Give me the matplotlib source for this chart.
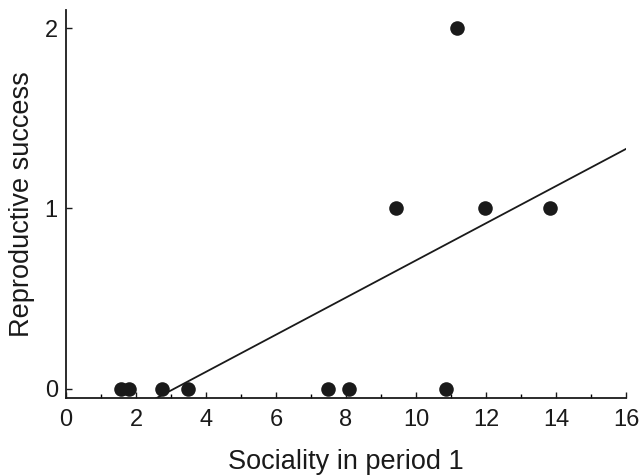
import numpy as np
import matplotlib
matplotlib.use("Agg")
import matplotlib.pyplot as plt
from matplotlib.ticker import MultipleLocator

plt.rcParams['font.family'] = ['Liberation Sans', 'DejaVu Sans']

sociality = [1.57, 1.8, 2.74, 3.49, 7.49, 8.09, 10.86, 9.43, 11.17, 11.97, 13.83]
success = [0, 0, 0, 0, 0, 0, 0, 1, 2, 1, 1]

fig = plt.figure(figsize=(6.42, 4.76), dpi=100)
ax = fig.add_axes([0.103, 0.164, 0.872, 0.815])

ax.scatter(sociality, success, s=110, color='#1a1a1a', zorder=3, linewidths=0)

# least squares fit, clipped by the axes at the bottom
slope, intercept = np.polyfit(sociality, success, 1)
xs = np.linspace(0, 16, 100)
ax.plot(xs, slope * xs + intercept, color='#1a1a1a', lw=1.3)

ax.set_xlim(0, 16)
ax.set_ylim(-0.05, 2.1)
ax.xaxis.set_major_locator(MultipleLocator(2))
ax.xaxis.set_minor_locator(MultipleLocator(1))
ax.set_yticks([0, 1, 2])

for s in ['top', 'right']:
    ax.spines[s].set_visible(False)
for s in ['left', 'bottom']:
    ax.spines[s].set_linewidth(1.3)
    ax.spines[s].set_color('#1a1a1a')

ax.tick_params(which='major', direction='in', length=4, width=1, labelsize=17, colors='#1a1a1a')
ax.tick_params(axis='x', pad=8)
ax.tick_params(axis='y', pad=6)
ax.tick_params(which='minor', direction='in', length=3, width=1)

ax.set_xlabel('Sociality in period 1', fontsize=19.5, color='#1a1a1a', labelpad=13)
ax.set_ylabel('Reproductive success', fontsize=19.5, color='#1a1a1a', labelpad=7)

fig.savefig('out.png', dpi=100)
